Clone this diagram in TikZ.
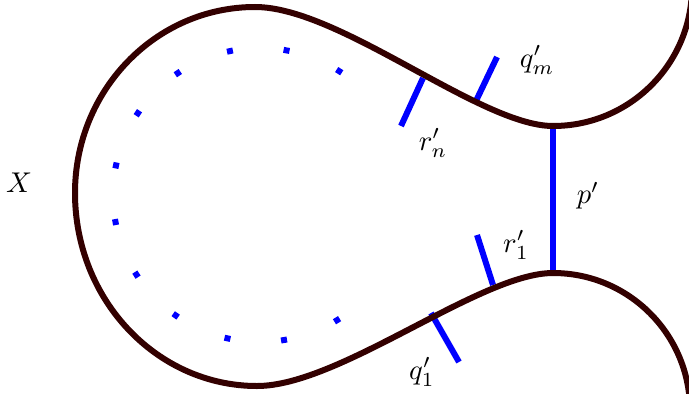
\documentclass[tikz,border=0pt]{standalone}
\usetikzlibrary{calc}
\definecolor{loopink}{HTML}{330000}
\definecolor{cutblue}{HTML}{0000FF}
\begin{document}
\begin{tikzpicture}[x=0.35pt,y=0.35pt,
  cut/.style={draw=cutblue,line width=2.1pt},
  rim/.style={draw=loopink,line width=2.1pt},
  dotsq/.style={fill=cutblue,inner sep=0pt,minimum size=2.1pt}]
  \useasboundingbox (0,0) rectangle (689,393);
  % ends of the cuts
  \coordinate (pt) at (553,267);
  \coordinate (pb) at (553,120);
  \coordinate (qm) at (475,290);
  \coordinate (qmo) at (497,336);
  \coordinate (rn) at (423,315);
  \coordinate (rni) at (401,267);
  \coordinate (ro) at (493,108);
  \coordinate (roi) at (477,158);
  \coordinate (qo) at (431,80);
  \coordinate (qoo) at (459,31);
  \draw[cut] (pt) -- (pb);
  \draw[cut] (qm) -- (qmo);
  \draw[cut] (rn) -- (rni);
  \draw[cut] (ro) -- (roi);
  \draw[cut] (qo) -- (qoo);
  % boundary
  \draw[rim] (692,406) arc[start angle=0,end angle=-90,radius=139]
    .. controls (480,267) and (340,386) .. (255,386)
    .. controls (156,386) and (75,303) .. (75,200)
    .. controls (75,93) and (157,7) .. (257,7)
    .. controls (340,7) and (480,120) .. (553,120)
    arc[start angle=90,end angle=0,radius=137];
  % dotted circle
  \coordinate (ctr) at (260,198);
  \foreach \a in {0,...,11}
    \node[dotsq,rotate={57.4+22.2*\a}] (d\a) at ($(ctr)+({57.4+22.2*\a}:147)$) {};
  % labels
  \node (lx) at (19,210) {$X$};
  \node (lqm) at (537,333) {$q'_m$};
  \node (lrn) at (433,250) {$r'_n$};
  \node (lp) at (588,197) {$p'$};
  \node (lro) at (516,148) {$r'_1$};
  \node (lqo) at (422,21) {$q'_1$};
\end{tikzpicture}
\end{document}
